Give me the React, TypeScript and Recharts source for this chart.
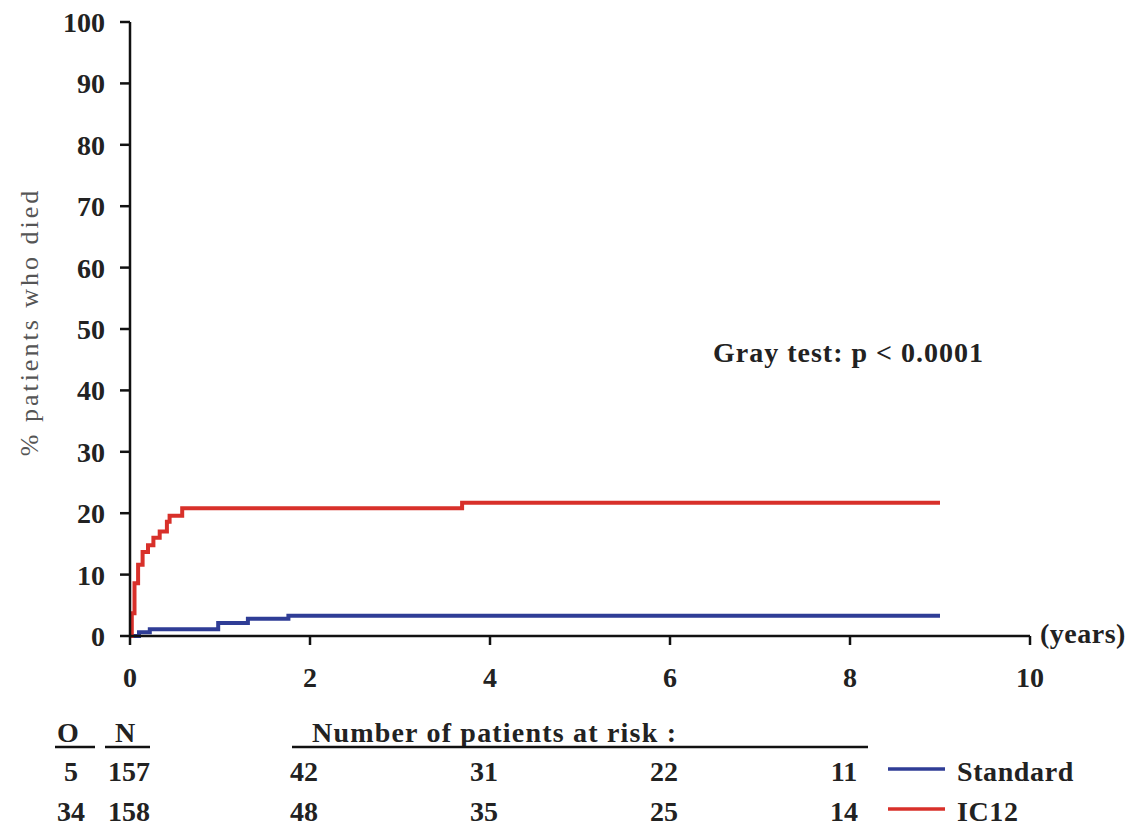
import { ComposedChart, Line, XAxis, YAxis } from "recharts";

// cumulative incidence of death (%)
const standardTimes = [0, 0.1, 0.22, 0.98, 1.31, 1.76, 9.0];
const standardValues = [0, 0.6, 1.1, 2.1, 2.8, 3.3, 3.3];

const ic12Times = [0, 0.02, 0.05, 0.09, 0.14, 0.2, 0.26, 0.33, 0.41, 0.44, 0.58, 3.69, 9.0];
const ic12Values = [0, 3.7, 8.6, 11.6, 13.7, 14.8, 16, 17, 18.6, 19.6, 20.8, 21.7, 21.7];

const xTicks = [0, 2, 4, 6, 8, 10];
const yTicks = [0, 10, 20, 30, 40, 50, 60, 70, 80, 90, 100];

const riskYears = [2, 4, 6, 8];
const standardAtRisk = [42, 31, 22, 11];
const ic12AtRisk = [48, 35, 25, 14];

const groups = ["Standard", "IC12"];
const observed = [5, 34];
const totals = [157, 158];
const colors = ["#2f3d96", "#d8302a"];

const W = 1134;
const H = 829;
const plotLeft = 130;
const plotRight = 1030;
const plotTop = 22;
const plotBottom = 636;
const yAxisW = 60;
const xAxisH = 40;

const font = "'Liberation Serif', 'Times New Roman', serif";
const ink = "#222";
const fs = 28;

const toRows = (times: number[], values: number[]) => times.map((t, i) => ({ t, v: values[i] }));

const xPos = (year: number) => plotLeft + ((plotRight - plotLeft) * year) / 10;

const tickStyle = { fontFamily: font, fontSize: fs, fontWeight: 700, fill: ink };

const App = () => {
  const rowsY = [781, 821];
  const atRisk = [standardAtRisk, ic12AtRisk];

  return (
    <div style={{ position: "absolute", left: 0, top: 0, width: W, height: H, background: "#fff" }}>
      <ComposedChart
        width={W}
        height={H}
        margin={{ top: plotTop, right: W - plotRight, bottom: H - plotBottom - xAxisH, left: plotLeft - yAxisW }}
      >
        <XAxis
          dataKey="t"
          type="number"
          domain={[0, 10]}
          ticks={xTicks}
          height={xAxisH}
          allowDataOverflow
          stroke="#111"
          strokeWidth={2.5}
          tickSize={9}
          tickMargin={22}
          tick={tickStyle}
          tickLine={{ stroke: "#111", strokeWidth: 2.5 }}
        />
        <YAxis
          type="number"
          domain={[0, 100]}
          ticks={yTicks}
          width={yAxisW}
          stroke="#111"
          strokeWidth={2.5}
          tickSize={10}
          tickMargin={15}
          tick={tickStyle}
          tickLine={{ stroke: "#111", strokeWidth: 2.5 }}
        />
        <Line
          data={toRows(standardTimes, standardValues)}
          dataKey="v"
          type="stepAfter"
          stroke={colors[0]}
          strokeWidth={4}
          dot={false}
          isAnimationActive={false}
        />
        <Line
          data={toRows(ic12Times, ic12Values)}
          dataKey="v"
          type="stepAfter"
          stroke={colors[1]}
          strokeWidth={4}
          dot={false}
          isAnimationActive={false}
        />
      </ComposedChart>

      <svg
        width={W}
        height={H}
        style={{ position: "absolute", left: 0, top: 0, pointerEvents: "none" }}
        fontFamily={font}
      >
        <text
          transform="translate(38, 322) rotate(-90)"
          textAnchor="middle"
          fontSize={26}
          fill="#555"
          letterSpacing={3}
        >
          % patients who died
        </text>
        <text x={1040} y={643} fontSize={fs} fontWeight={700} fill={ink} letterSpacing={0.5}>
          (years)
        </text>
        <text x={713} y={362} fontSize={fs} fontWeight={700} fill={ink} letterSpacing={1}>
          Gray test: p &lt; 0.0001
        </text>

        {/* at-risk table header */}
        <text x={68} y={742} fontSize={fs} fontWeight={700} fill={ink} textAnchor="middle">O</text>
        <line x1={55} x2={95} y1={747} y2={747} stroke="#111" strokeWidth={2.5} />
        <text x={125} y={742} fontSize={fs} fontWeight={700} fill={ink} textAnchor="middle">N</text>
        <line x1={105} x2={150} y1={747} y2={747} stroke="#111" strokeWidth={2.5} />
        <text x={312} y={742} fontSize={fs} fontWeight={700} fill={ink} letterSpacing={1.2}>
          Number of patients at risk :
        </text>
        <line x1={292} x2={868} y1={747} y2={747} stroke="#111" strokeWidth={2.5} />

        {groups.map((g, gi) => (
          <g key={g}>
            <text x={71} y={rowsY[gi]} fontSize={fs} fontWeight={700} fill={ink} textAnchor="middle">
              {observed[gi]}
            </text>
            <text x={129} y={rowsY[gi]} fontSize={fs} fontWeight={700} fill={ink} textAnchor="middle">
              {totals[gi]}
            </text>
            {riskYears.map((yr, i) => (
              <text key={yr} x={xPos(yr) - 6} y={rowsY[gi]} fontSize={fs} fontWeight={700} fill={ink} textAnchor="middle">
                {atRisk[gi][i]}
              </text>
            ))}
            <line x1={888} x2={945} y1={rowsY[gi] - 12} y2={rowsY[gi] - 12} stroke={colors[gi]} strokeWidth={3.5} />
            <text x={957} y={rowsY[gi]} fontSize={fs} fontWeight={700} fill={ink} letterSpacing={0.6}>
              {g}
            </text>
          </g>
        ))}
      </svg>
    </div>
  );
};

export default App;
